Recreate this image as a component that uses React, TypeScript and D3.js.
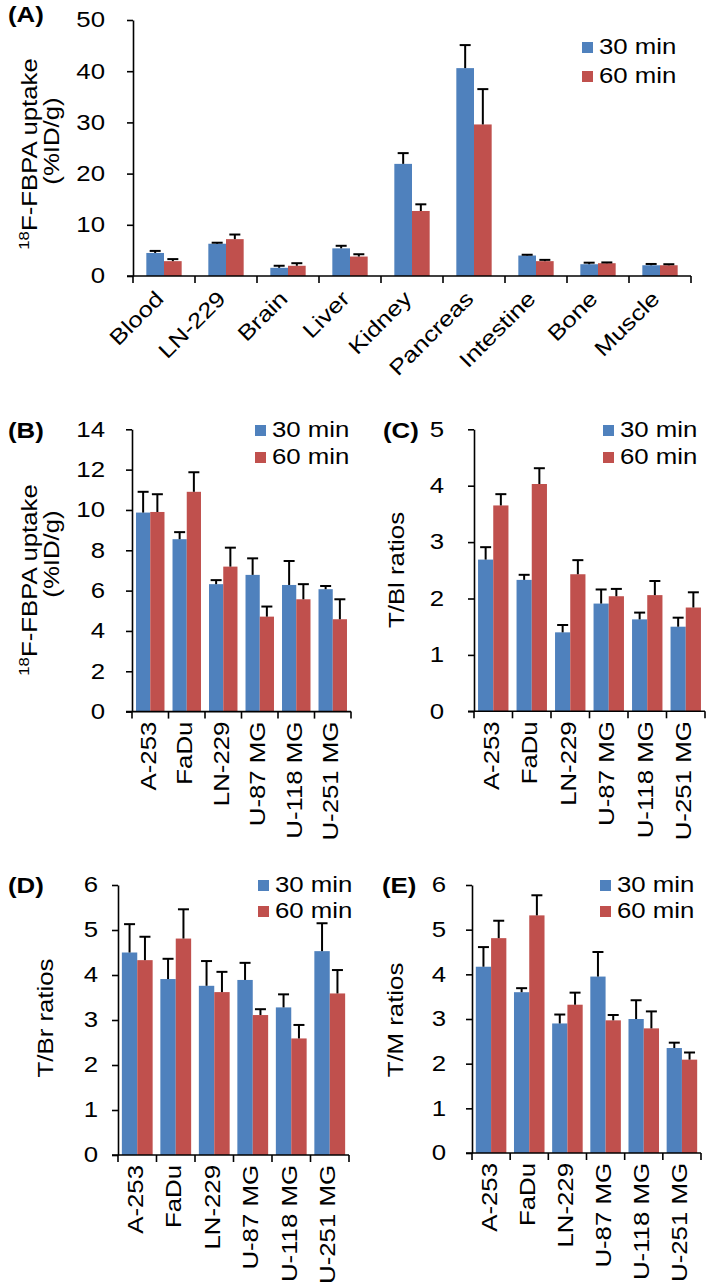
import React, { useRef, useEffect } from 'react';
import * as d3 from 'd3';

// ---- data ----
const tissues = ['Blood', 'LN-229', 'Brain', 'Liver', 'Kidney', 'Pancreas', 'Intestine', 'Bone', 'Muscle'];
const cellLines = ['A-253', 'FaDu', 'LN-229', 'U-87 MG', 'U-118 MG', 'U-251 MG'];
const seriesNames = ['30 min', '60 min'];

// (A) biodistribution, %ID/g
const a30 = [4.5, 6.3, 1.6, 5.4, 21.9, 40.6, 4.0, 2.3, 2.1];
const a30Err = [0.4, 0.2, 0.4, 0.5, 2.1, 4.5, 0.15, 0.3, 0.25];
const a60 = [2.9, 7.2, 2.0, 3.8, 12.7, 29.6, 2.9, 2.5, 2.1];
const a60Err = [0.4, 0.9, 0.5, 0.45, 1.3, 6.9, 0.25, 0.15, 0.2];

// (B) tumour uptake, %ID/g
const b30 = [9.87, 8.55, 6.32, 6.78, 6.28, 6.07];
const b30Err = [1.03, 0.35, 0.2, 0.82, 1.19, 0.16];
const b60 = [9.9, 10.9, 7.19, 4.71, 5.57, 4.58];
const b60Err = [0.88, 0.97, 0.94, 0.5, 0.75, 0.99];

// (C) T/Bl ratios
const c30 = [2.69, 2.33, 1.4, 1.91, 1.63, 1.5];
const c30Err = [0.22, 0.09, 0.13, 0.25, 0.12, 0.16];
const c60 = [3.65, 4.03, 2.43, 2.04, 2.06, 1.84];
const c60Err = [0.2, 0.28, 0.25, 0.13, 0.25, 0.27];

// (D) T/Br ratios
const d30 = [4.5, 3.91, 3.76, 3.89, 3.28, 4.53];
const d30Err = [0.63, 0.45, 0.55, 0.38, 0.29, 0.62];
const d60 = [4.33, 4.81, 3.62, 3.11, 2.59, 3.59];
const d60Err = [0.52, 0.65, 0.45, 0.13, 0.3, 0.52];

// (E) T/M ratios
const e30 = [4.17, 3.6, 2.9, 3.95, 3.0, 2.35];
const e30Err = [0.44, 0.09, 0.2, 0.55, 0.42, 0.12];
const e60 = [4.81, 5.32, 3.32, 2.97, 2.79, 2.09];
const e60Err = [0.39, 0.45, 0.27, 0.12, 0.38, 0.16];

const ticksA = [0, 10, 20, 30, 40, 50];
const ticksB = [0, 2, 4, 6, 8, 10, 12, 14];
const ticksC = [0, 1, 2, 3, 4, 5];
const ticksDE = [0, 1, 2, 3, 4, 5, 6];

const BLUE = '#4f81bd';
const RED = '#c0504d';
const FONT = 'Helvetica, Arial, "Liberation Sans", sans-serif';
const FS = 21.5; // font size
const SX = 1.2; // the source type is set wide, stretch along the reading direction

interface Panel {
  letter: string;
  cats: string[];
  vals: number[][];
  errs: number[][];
  ticks: number[];
  x0: number;
  x1: number;
  yTop: number;
  yBottom: number;
  groupFrac: number;
  labelGap: number;
  slanted: boolean;
  letterX: number;
  letterY: number;
  legendX: number;
  legendY: number;
  legendStep: number;
  title: { text: string; sup?: string; x: number; y: number }[];
}

const panels: Panel[] = [
  {
    letter: '(A)', cats: tissues, vals: [a30, a60], errs: [a30Err, a60Err], ticks: ticksA,
    x0: 133, x1: 691, yTop: 20, yBottom: 276, groupFrac: 0.57, labelGap: 22, slanted: true,
    letterX: 8, letterY: 22, legendX: 582, legendY: 54, legendStep: 29,
    title: [
      { sup: '18', text: 'F-FBPA uptake', x: 37, y: 154 },
      { text: '(%ID/g)', x: 59, y: 141 },
    ],
  },
  {
    letter: '(B)', cats: cellLines, vals: [b30, b60], errs: [b30Err, b60Err], ticks: ticksB,
    x0: 132, x1: 351, yTop: 429.3, yBottom: 711.6, groupFrac: 0.78, labelGap: 21, slanted: false,
    letterX: 8, letterY: 438, legendX: 255, legendY: 437, legendStep: 27,
    title: [
      { sup: '18', text: 'F-FBPA uptake', x: 37, y: 580 },
      { text: '(%ID/g)', x: 59, y: 554 },
    ],
  },
  {
    letter: '(C)', cats: cellLines, vals: [c30, c60], errs: [c30Err, c60Err], ticks: ticksC,
    x0: 474, x1: 705, yTop: 429.3, yBottom: 711.3, groupFrac: 0.79, labelGap: 24, slanted: false,
    letterX: 383, letterY: 438, legendX: 603, legendY: 437, legendStep: 27,
    title: [{ text: 'T/Bl ratios', x: 404, y: 570 }],
  },
  {
    letter: '(D)', cats: cellLines, vals: [d30, d60], errs: [d30Err, d60Err], ticks: ticksDE,
    x0: 118, x1: 349, yTop: 885, yBottom: 1155, groupFrac: 0.8, labelGap: 14, slanted: false,
    letterX: 8, letterY: 893, legendX: 258, legendY: 892, legendStep: 26,
    title: [{ text: 'T/Br ratios', x: 53, y: 1018 }],
  },
  {
    letter: '(E)', cats: cellLines, vals: [e30, e60], errs: [e30Err, e60Err], ticks: ticksDE,
    x0: 472, x1: 701, yTop: 885, yBottom: 1153, groupFrac: 0.8, labelGap: 20, slanted: false,
    letterX: 382, letterY: 893, legendX: 600, legendY: 892, legendStep: 26,
    title: [{ text: 'T/M ratios', x: 403, y: 1020 }],
  },
];

function drawPanel(svg: d3.Selection<SVGSVGElement, unknown, null, undefined>, p: Panel) {
  const g = svg.append('g');
  const colors = [BLUE, RED];

  const x = d3.scaleBand<string>().domain(p.cats).range([p.x0, p.x1]);
  const bw = x.bandwidth();
  const gw = bw * p.groupFrac;
  const sub = d3.scaleBand<string>().domain(seriesNames).range([(bw - gw) / 2, (bw + gw) / 2]);
  const yMax = p.ticks[p.ticks.length - 1];
  const y = d3.scaleLinear().domain([0, yMax]).range([p.yBottom, p.yTop]);

  // bars
  seriesNames.forEach((s, si) => {
    g.append('g')
      .selectAll('rect')
      .data(p.cats)
      .join('rect')
      .attr('x', (c) => (x(c) as number) + (sub(s) as number))
      .attr('y', (_c, i) => y(p.vals[si][i]))
      .attr('width', sub.bandwidth())
      .attr('height', (_c, i) => p.yBottom - y(p.vals[si][i]))
      .attr('fill', colors[si]);
  });

  // error bars (upper only)
  seriesNames.forEach((s, si) => {
    p.cats.forEach((c, i) => {
      const cx = (x(c) as number) + (sub(s) as number) + sub.bandwidth() / 2;
      const v = p.vals[si][i];
      const top = y(v + p.errs[si][i]);
      g.append('line')
        .attr('x1', cx).attr('x2', cx)
        .attr('y1', y(v)).attr('y2', top)
        .attr('stroke', '#000').attr('stroke-width', 2);
      g.append('line')
        .attr('x1', cx - 5.5).attr('x2', cx + 5.5)
        .attr('y1', top).attr('y2', top)
        .attr('stroke', '#000').attr('stroke-width', 2);
    });
  });

  // y axis
  const yAxis = g.append('g')
    .attr('transform', `translate(${p.x0},0)`)
    .call(d3.axisLeft(y).tickValues(p.ticks).tickSize(6).tickSizeOuter(0).tickPadding(p.labelGap).tickFormat(d3.format('d')));
  yAxis.select('.domain').attr('stroke', '#000').attr('stroke-width', 1.6);
  yAxis.selectAll('.tick line').attr('stroke', '#000').attr('stroke-width', 1.6);
  yAxis.selectAll<SVGTextElement, number>('.tick text')
    .attr('fill', '#000')
    .style('font-size', `${FS}px`)
    .style('font-family', FONT)
    .attr('x', -(6 + p.labelGap) / SX)
    .attr('transform', `scale(${SX},1)`);

  // x axis line + boundary ticks
  g.append('line')
    .attr('x1', p.x0 - 6).attr('x2', p.x1)
    .attr('y1', p.yBottom).attr('y2', p.yBottom)
    .attr('stroke', '#000').attr('stroke-width', 1.6);
  d3.range(p.cats.length + 1).forEach((i) => {
    const xx = p.x0 + i * x.step();
    g.append('line')
      .attr('x1', xx).attr('x2', xx)
      .attr('y1', p.yBottom).attr('y2', p.yBottom + 7)
      .attr('stroke', '#000').attr('stroke-width', 1.6);
  });

  // category labels
  p.cats.forEach((c) => {
    const cx = (x(c) as number) + bw / 2;
    const t = g.append('text')
      .attr('text-anchor', 'end')
      .attr('fill', '#000')
      .style('font-size', `${FS}px`)
      .style('font-family', FONT)
      .text(c);
    if (p.slanted) {
      t.attr('transform', `translate(${cx + 1},${p.yBottom + 24}) rotate(-45) scale(${SX},1)`);
    } else {
      t.attr('transform', `translate(${cx - 2},${p.yBottom + 10}) rotate(-90) scale(${SX},1)`).attr('dy', '0.35em');
    }
  });

  // axis title
  p.title.forEach((line) => {
    const t = g.append('text')
      .attr('transform', `translate(${line.x},${line.y}) rotate(-90) scale(${SX},1)`)
      .attr('text-anchor', 'middle')
      .attr('fill', '#000')
      .style('font-size', `${FS}px`)
      .style('font-family', FONT);
    if (line.sup) {
      t.append('tspan').style('font-size', '14px').attr('dy', '-8').text(line.sup);
      t.append('tspan').attr('dy', '8').text(line.text);
    } else {
      t.text(line.text);
    }
  });

  // panel letter
  g.append('text')
    .attr('transform', `translate(${p.letterX},${p.letterY}) scale(${SX},1)`)
    .attr('fill', '#000')
    .style('font-size', `${FS}px`)
    .style('font-weight', 'bold')
    .style('font-family', FONT)
    .text(p.letter);

  // legend
  seriesNames.forEach((s, si) => {
    const ly = p.legendY + si * p.legendStep;
    g.append('rect')
      .attr('x', p.legendX).attr('y', ly - 12)
      .attr('width', 11).attr('height', 11)
      .attr('fill', colors[si]);
    g.append('text')
      .attr('transform', `translate(${p.legendX + 17},${ly}) scale(${SX},1)`)
      .attr('fill', '#000')
      .style('font-size', `${FS}px`)
      .style('font-family', FONT)
      .text(s);
  });
}

export default function App() {
  const svgRef = useRef<SVGSVGElement>(null);

  useEffect(() => {
    if (!svgRef.current) return;
    const svg = d3.select(svgRef.current);
    svg.selectAll('*').remove();
    panels.forEach((p) => drawPanel(svg, p));
  }, []);

  return (
    <div style={{ position: 'absolute', left: 0, top: 0 }}>
      <svg ref={svgRef} width={709} height={1287} style={{ display: 'block', background: '#fff' }} />
    </div>
  );
}
